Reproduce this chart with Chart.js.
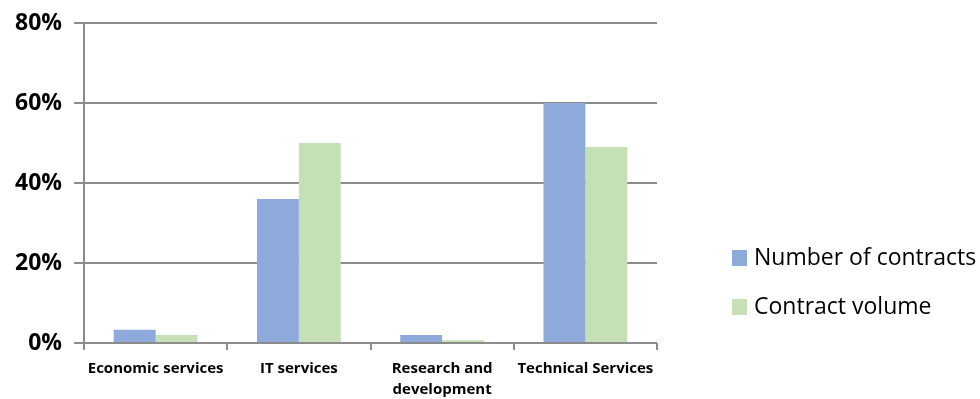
<!DOCTYPE html>
<html><head><meta charset="utf-8">
<script src="https://cdn.jsdelivr.net/npm/chart.js@4"></script>
<style>html,body{margin:0;padding:0;background:#fff}#wrap{width:980px;height:399px}</style>
</head><body><div id="wrap"><canvas id="c" width="980" height="399"></canvas></div>
<script>
const categories = ["Economic services", "IT services", ["Research and", "development"], "Technical Services"];
const seriesNames = ["Number of contracts", "Contract volume"];
const numberOfContracts = [3.3, 36, 2, 60];
const contractVolume = [2, 50, 0.7, 49];
const yTicks = [0, 20, 40, 60, 80];
const colors = ["#8eaadb", "#c5e0b4"];
const gridColor = "#8c8c8c";

const legendPlugin = {
  id: 'sideLegend',
  afterDraw(chart) {
    const ctx = chart.ctx;
    ctx.save();
    ctx.font = '23px "Open Sans"';
    ctx.textBaseline = 'middle';
    chart.data.datasets.forEach((ds, i) => {
      const y = 258 + i * 49;
      ctx.fillStyle = ds.backgroundColor;
      ctx.fillRect(732, y - 8, 15, 16);
      ctx.fillStyle = '#000';
      ctx.fillText(ds.label, 754, y);
    });
    ctx.restore();
  }
};

new Chart(document.getElementById('c'), {
  type: 'bar',
  data: {
    labels: categories,
    datasets: [
      {label: seriesNames[0], data: numberOfContracts, backgroundColor: colors[0]},
      {label: seriesNames[1], data: contractVolume, backgroundColor: colors[1]}
    ]
  },
  options: {
    responsive: false,
    animation: false,
    events: [],
    layout: {padding: {top: 23, right: 323, left: 0, bottom: 0}},
    plugins: {legend: {display: false}, tooltip: {enabled: false}},
    datasets: {bar: {categoryPercentage: 0.585, barPercentage: 1}},
    scales: {
      x: {
        grid: {offset: true, drawOnChartArea: false, drawTicks: true, tickLength: 7, color: gridColor, lineWidth: 2},
        border: {display: false},
        ticks: {color: '#000', font: {family: 'Open Sans', weight: 'bold', size: 15, lineHeight: 1.4}, padding: 8, maxRotation: 0, autoSkip: false},
        afterFit(s) { s.height = 56; }
      },
      y: {
        min: 0, max: 80,
        afterBuildTicks(s) { s.ticks = yTicks.map(v => ({value: v})); },
        grid: {color: gridColor, lineWidth: 2, tickLength: 10},
        border: {color: gridColor, width: 2},
        ticks: {color: '#000', font: {family: 'Open Sans', weight: 'bold', size: 23, lineHeight: 0.9}, padding: 12, callback: v => v + '%'},
        afterFit(s) { s.width = 84; }
      }
    }
  },
  plugins: [legendPlugin]
});
</script></body></html>
